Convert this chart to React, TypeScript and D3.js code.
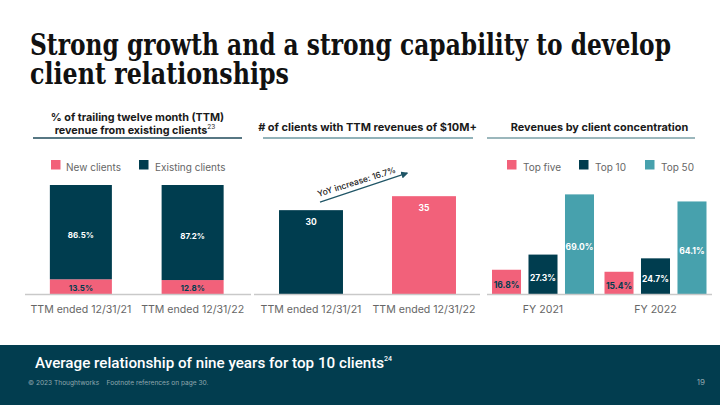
import React, { useLayoutEffect, useRef, useState } from "react";
import * as d3 from "d3";

const W = 720;
const H = 405;

// Title
const titleLines = ["Strong growth and a strong capability to develop", "client relationships"];
const titleWidths = [641, 259];

// Panel 1
const p1Categories = ["TTM ended 12/31/21", "TTM ended 12/31/22"];
const newClients = [13.5, 12.8];
const existingClients = [86.5, 87.2];
const p1Legend = ["New clients", "Existing clients"];

// Panel 2
const p2Categories = ["TTM ended 12/31/21", "TTM ended 12/31/22"];
const clients10M = [30, 35];
const yoyLabel = "YoY increase: 16.7%";

// Panel 3
const p3Categories = ["FY 2021", "FY 2022"];
const p3Series = ["Top five", "Top 10", "Top 50"];
const topFive = [16.8, 15.4];
const topTen = [27.3, 24.7];
const topFifty = [69.0, 64.1];

const PINK = "#f2617a";
const DARK = "#003d4f";
const TEAL = "#47a1ad";
const AXIS = "#c9c9c9";
const GRAY = "#666666";
const FONT = "Inter, 'Noto Sans', sans-serif";

const BASE = 294;
const TOP = 185;

function TitleLine({ text, x, y, width }: { text: string; x: number; y: number; width: number }) {
  const ref = useRef<SVGTextElement>(null);
  const [sx, setSx] = useState(0.7);
  useLayoutEffect(() => {
    if (ref.current) {
      const w = ref.current.getComputedTextLength();
      if (w > 0) setSx(width / w);
    }
  }, [text, width]);
  return (
    <text ref={ref} transform={`translate(${x},${y}) scale(${sx},1)`} fontFamily="'DejaVu Serif', serif"
      fontWeight={700} fontSize={29} fill="#111">{text}</text>
  );
}

export default function App() {
  const x1 = d3.scaleBand<string>().domain(p1Categories).range([25, 248.5]).paddingInner(0.445).paddingOuter(0.2225);
  const y1 = d3.scaleLinear().domain([0, 100]).range([BASE, TOP]);

  const x2 = d3.scaleBand<string>().domain(p2Categories).range([254.5, 480.5]).paddingInner(0.434).paddingOuter(0.217);
  const y2 = d3.scaleLinear().domain([0, 39]).range([BASE, TOP]);

  const x3 = d3.scaleBand<string>().domain(p3Categories).range([486.75, 711.75]).paddingInner(0.0933).paddingOuter(0.0467);
  const x3i = d3.scaleBand<string>().domain(p3Series).range([0, x3.bandwidth()]).paddingInner(0.205).paddingOuter(0);
  const y3 = d3.scaleLinear().domain([0, 75.5]).range([BASE, TOP]);
  const p3Values = [topFive, topTen, topFifty];
  const p3Colors = [PINK, DARK, TEAL];
  const p3LabelColors = [DARK, "#ffffff", "#ffffff"];

  const fmtPct = (v: number) => d3.format(".1f")(v) + "%";

  const ax0 = x2(p2Categories[0])! + x2.bandwidth() / 2 + 9;
  const ax1 = x2(p2Categories[1])! + x2.bandwidth() / 2 - 17;
  const ay0 = y2(clients10M[0]) - 8;
  const ay1 = y2(clients10M[1]) - 23;
  const angle = (Math.atan2(ay1 - ay0, ax1 - ax0) * 180) / Math.PI;
  const mx = (ax0 + ax1) / 2 - 6;
  const my = (ay0 + ay1) / 2 - 3;

  return (
    <svg
      width={W}
      height={H}
      viewBox={`0 0 ${W} ${H}`}
      style={{ position: "absolute", left: 0, top: 0, background: "#fff" }}
    >
      <defs>
        <marker id="arr" viewBox="0 0 10 10" refX="8" refY="5" markerWidth="6" markerHeight="6" orient="auto">
          <path d="M0,0 L10,5 L0,10 z" fill="#1f5566" />
        </marker>
      </defs>

      {/* Title */}
      <TitleLine text={titleLines[0]} x={30} y={55} width={titleWidths[0]} />
      <TitleLine text={titleLines[1]} x={30} y={84} width={titleWidths[1]} />

      {/* Panel 1 title */}
      <g fontFamily={FONT} fontWeight={700} fontSize={10.8} fill="#1a1a1a" textAnchor="middle">
        <text x={137.5} y={120.5}>% of trailing twelve month (TTM)</text>
        <text x={135} y={133.5}>
          revenue from existing clients
          <tspan fontSize={6.5} fontWeight={400} dy={-4.5}>23</tspan>
        </text>
      </g>
      <line x1={33} x2={242} y1={138} y2={138} stroke="#1f4a5a" strokeWidth={1.3} />

      {/* Panel 1 legend */}
      <g fontFamily={FONT} fontSize={10} fill={GRAY}>
        <rect x={51} y={160} width={9.5} height={9.5} fill={PINK} />
        <text x={66} y={171}>{p1Legend[0]}</text>
        <rect x={139} y={160} width={9.5} height={9.5} fill={DARK} />
        <text x={155} y={171}>{p1Legend[1]}</text>
      </g>

      {/* Panel 1 bars */}
      {p1Categories.map((c, i) => {
        const x = x1(c)!;
        const bw = x1.bandwidth();
        const yNew = y1(newClients[i]);
        const yTop = y1(newClients[i] + existingClients[i]);
        return (
          <g key={c}>
            <rect x={x} y={yNew} width={bw} height={BASE - yNew} fill={PINK} />
            <rect x={x} y={yTop} width={bw} height={yNew - yTop} fill={DARK} />
            <text x={x + bw / 2} y={(yTop + yNew) / 2 + 6} textAnchor="middle" fontFamily={FONT}
              fontWeight={700} fontSize={8} fill="#ffffff">{fmtPct(existingClients[i])}</text>
            <text x={x + bw / 2} y={(yNew + BASE) / 2 + 4.3} textAnchor="middle" fontFamily={FONT}
              fontWeight={700} fontSize={8} fill={DARK}>{fmtPct(newClients[i])}</text>
            <text x={x + bw / 2} y={313} textAnchor="middle" fontFamily={FONT} fontSize={10.6} fill={GRAY}>{c}</text>
          </g>
        );
      })}
      <line x1={25} x2={251} y1={BASE + 0.5} y2={BASE + 0.5} stroke={AXIS} strokeWidth={1.5} />

      {/* Panel 2 title */}
      <text x={367.5} y={131} textAnchor="middle" fontFamily={FONT} fontWeight={700} fontSize={11} fill="#1a1a1a">
        # of clients with TTM revenues of $10M+
      </text>
      <line x1={263} x2={473} y1={138} y2={138} stroke="#6d98a2" strokeWidth={1.3} />

      {/* Panel 2 bars */}
      {p2Categories.map((c, i) => {
        const x = x2(c)!;
        const bw = x2.bandwidth();
        const y = y2(clients10M[i]);
        return (
          <g key={c}>
            <rect x={x} y={y} width={bw} height={BASE - y} fill={i === 0 ? DARK : PINK} />
            <text x={x + bw / 2} y={y + 14.5} textAnchor="middle" fontFamily={FONT} fontWeight={700}
              fontSize={8.5} fill="#ffffff">{clients10M[i]}</text>
            <text x={x + bw / 2} y={313} textAnchor="middle" fontFamily={FONT} fontSize={10.6} fill={GRAY}>{c}</text>
          </g>
        );
      })}
      <line x1={254} x2={480} y1={BASE + 0.5} y2={BASE + 0.5} stroke={AXIS} strokeWidth={1.5} />
      <line x1={ax0} y1={ay0} x2={ax1} y2={ay1} stroke="#1f5566" strokeWidth={1.2} markerEnd="url(#arr)" />
      <text x={mx} y={my} textAnchor="middle" fontFamily={FONT} fontWeight={500} fontSize={8.5} fill="#222"
        transform={`rotate(${angle + 1} ${mx} ${my})`}>{yoyLabel}</text>

      {/* Panel 3 title */}
      <text x={599.5} y={131} textAnchor="middle" fontFamily={FONT} fontWeight={700} fontSize={10.9} fill="#1a1a1a">
        Revenues by client concentration
      </text>
      <line x1={487} x2={695} y1={138} y2={138} stroke="#7a9fa6" strokeWidth={1.3} />

      {/* Panel 3 legend */}
      <g fontFamily={FONT} fontSize={10} fill={GRAY}>
        {p3Series.map((s, j) => {
          const lx = [507, 579, 645][j];
          return (
            <g key={s}>
              <rect x={lx} y={160} width={9.5} height={9.5} fill={p3Colors[j]} />
              <text x={lx + 16} y={171}>{s}</text>
            </g>
          );
        })}
      </g>

      {/* Panel 3 bars */}
      {p3Categories.map((c, i) => (
        <g key={c} transform={`translate(${x3(c)},0)`}>
          {p3Series.map((s, j) => {
            const v = p3Values[j][i];
            const x = x3i(s)!;
            const bw = x3i.bandwidth();
            const y = y3(v);
            return (
              <g key={s}>
                <rect x={x} y={y} width={bw} height={BASE - y} fill={p3Colors[j]} />
                <text x={x + bw / 2} y={(y + BASE) / 2 + 6.3} textAnchor="middle" fontFamily={FONT}
                  fontWeight={700} fontSize={8.5} fill={p3LabelColors[j]}>{fmtPct(v)}</text>
              </g>
            );
          })}
          <text x={x3.bandwidth() / 2} y={313} textAnchor="middle" fontFamily={FONT} fontSize={10.6} fill={GRAY}>{c}</text>
        </g>
      ))}
      <line x1={487} x2={712} y1={BASE + 0.5} y2={BASE + 0.5} stroke={AXIS} strokeWidth={1.5} />

      {/* Bottom band */}
      <rect x={0} y={345} width={W} height={H - 345} fill="#023d4f" />
      <text x={35} y={368} fontFamily="Roboto, sans-serif" fontWeight={500} fontSize={15.2} fill="#ffffff">
        Average relationship of nine years for top 10 clients
        <tspan fontSize={7} dy={-7}>24</tspan>
      </text>
      <text x={28} y={385} fontFamily={FONT} fontSize={6.6} fill="#8fa7ae">
        © 2023 Thoughtworks{"\u00a0\u00a0\u00a0\u00a0"}Footnote references on page 30.
      </text>
      <text x={705} y={385} textAnchor="end" fontFamily={FONT} fontSize={8} fill="#8fa7ae">19</text>
    </svg>
  );
}
